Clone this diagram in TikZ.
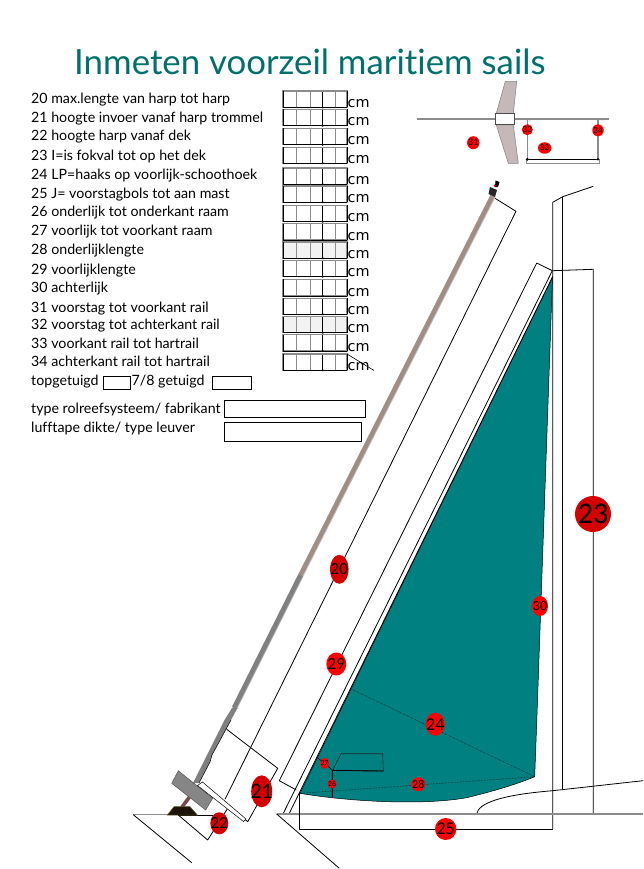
\documentclass[tikz,border=0pt]{standalone}
\usepackage{fontspec}
\setmainfont[Ligatures=NoCommon]{Lato}
\newfontfamily\cmfont{DejaVu Sans}
\newfontfamily\bdfont{Carlito}
\usetikzlibrary{shapes.geometric}
\definecolor{sailteal}{HTML}{008080}
\definecolor{titleteal}{HTML}{00706C}
\definecolor{bad}{HTML}{FF0000}
\definecolor{badd}{HTML}{D40000}
\definecolor{stayb}{HTML}{A08E84}
\definecolor{shroud}{HTML}{C4B8B8}
\tikzset{
 ln/.style={draw=black,line width=.8pt,line join=round},
 gl/.style={draw=gray!90,line width=1.2pt},
 cell/.style={draw=black,line width=.8pt},
 lab/.style={anchor=base west,inner sep=0pt,font=\fontsize{14.2}{15}\selectfont},
 cmt/.style={anchor=base west,inner sep=0pt,font=\cmfont\fontsize{14.4}{15}\selectfont},
}
\newcommand{\rowbox}[3]{%
 \fill[#3] (283,#1) rectangle (347,#2);
 \draw[gl,line width=1pt] (296,#1)--(296,#2) (310,#1)--(310,#2) (335,#1)--(335,#2);
 \draw[cell] (322.7,#1)--(322.7,#2);
 \draw[gl] (283,#1) rectangle (347,#2);
 \draw[black,line width=.8pt] (283,#2)--(347,#2) (283,#1)--(283,#2) (347,#1)--(347,#2);
 \fill (322.7,#2) circle (1.1);
}
\newcommand{\bd}[7]{\node[ellipse,fill=#6,inner sep=0pt,outer sep=0pt,minimum width=#3,minimum height=#4] (b#7) at (#1,#2) {};
 \node[inner sep=0pt,font=\bdfont\fontsize{#5}{#5}\selectfont] at (b#7) {#7};}
\begin{document}
\begin{tikzpicture}[x=1pt,y=-1pt]
\useasboundingbox (0,0) rectangle (643,869);
\node[anchor=base west,inner sep=0pt,text=titleteal,font=\fontsize{34.8}{36}\selectfont] (title) at (74,74.3) {Inmeten voorzeil maritiem sails};
% list
\foreach \y/\t in {103.3/{20 max.lengte van harp tot harp},122.3/{21 hoogte invoer vanaf harp trommel},141/{22 hoogte harp vanaf dek},160.3/{23 I=is fokval tot op het dek},179.3/{24 LP=haaks op voorlijk-schoothoek},198.3/{25 J= voorstagbols tot aan mast},216.7/{26 onderlijk tot onderkant raam},235.7/{27 voorlijk tot voorkant raam},254/{28 onderlijklengte},274/{29 voorlijklengte},292.7/{30 achterlijk},312/{31 voorstag tot voorkant rail},329.3/{32 voorstag tot achterkant rail},348.3/{33 voorkant rail tot hartrail},366/{34 achterkant rail tot hartrail},385/{topgetuigd},413.3/{type rolreefsysteem/ fabrikant},432.7/{lufftape dikte/ type leuver}}
 \node[lab] at (31,\y) {\t};
\node[lab] (g78) at (131.5,385) {7/8 getuigd};
% boxes
\foreach \a/\b/\c in {91/107.5/white,109.3/125.7/white,128.3/144.7/white,147.3/163.3/white,168/184.3/white,186/202.3/white,205.3/221.7/white,223.7/240/white,242/258.3/gray!10,260.3/276.7/white,279.3/296/white,298.3/314.3/white,316.7/332.7/gray!10,334.7/351/white,354/370.3/white}{
 \rowbox{\a}{\b}{\c}
 \node[cmt] at (347.5,\b) {cm};
}
\draw[ln,line width=.6pt] (347,354)--(374,370.5);
\draw[cell] (103.3,376.3) rectangle (130.7,389);
\draw[cell] (212.7,376.7) rectangle (251.7,389);
\draw[cell] (224,400.7) rectangle (365.3,417.3);
\draw[cell] (224.7,422.7) rectangle (361,441.3);
% top detail
\draw[gl] (416.7,119)--(495,119) (514,119)--(609.3,119);
\filldraw[fill=shroud,draw=gray,line width=.5pt] (505.3,81.3)--(516.7,81.3)--(513.3,113.3)--(496.3,113.3)--cycle;
\filldraw[fill=shroud,draw=gray,line width=.5pt] (496.3,125)--(513.3,125)--(518.3,163.3)--(508.3,163.3)--cycle;
\draw[draw=black!70,fill=white,line width=.8pt] (495,113.3) rectangle (514,124.3);
\draw[gl] (527.3,119)--(527.3,159.3) (598,119)--(598,159.3);
\draw[gl,line width=1pt] (526,159.3) rectangle (599.3,164);
\draw[black,line width=.7pt] (526,159.3)--(599.3,159.3);
\fill (527.3,159.3) circle (1.6) (598,159.3) circle (1.4);
\bd{473.3}{142.7}{12.5}{13}{10}{bad}{31}
\bd{527.3}{129.7}{11}{11}{9}{bad}{33}
\bd{598}{130.3}{11.5}{12}{9}{bad}{34}
\bd{544.7}{148}{13.5}{11.5}{9}{bad}{32}
% mast
\draw[ln] (552.7,829)--(552.7,202.3)--(562.7,196.7)--(593.3,186.3);
\draw[ln] (562.7,196.7)--(562.7,789.3);
\draw[ln] (552.7,270.7)--(593.3,269.3)--(593.3,814);
% cabin
\draw[ln] (476.7,814) .. controls (478.3,803.3) and (500,795) .. (552.7,790.7) -- (643,780.7);
% sail
\filldraw[fill=sailteal,draw=black,line width=.5pt] (552.5,277) -- (300,793.3) .. controls (345,801) and (420,806) .. (466.7,797.7) .. controls (490,792) and (515,785) .. (534.7,776.7) -- (536.7,723) -- cycle;
\draw[ln] (536.7,263)--(279.3,780.7)--(296.3,790);
\draw[ln] (536.7,263)--(552.3,270.7)--(283.3,813.3);
\draw[ln] (552.5,277)--(289.3,813.3);
\draw[black,line width=.5pt,densely dotted] (300,793.3)--(534.7,776.7);
\draw[black,line width=.5pt,densely dotted] (351.7,689.3)--(534.7,776.7);
\draw[gray!30!black,line width=.6pt] (332.7,770)--(341,753.7)--(382.7,753.7)--(383.3,771)--cycle;
\draw[black,line width=.9pt] (332.3,770)--(332.3,797.3) (332.7,770.5)--(383.3,771);
\draw[black,line width=.5pt] (318,758)--(332.3,770);
% deck
\draw[gl] (276.7,814)--(643,814);
\draw[ln] (276.7,814)--(339.3,868.3);
\draw[black,line width=1pt] (299.3,793.3)--(299.3,829)--(552.7,829);
\draw[gl] (133.3,814.7)--(178,814.7);
\draw[black,line width=.8pt] (178,815)--(213.3,815);
\draw[ln] (133.3,814.7)--(191.7,862.7);
% harp
\draw[ln] (495,198.3)--(516,211.3)--(225,799.3);
\draw[ln] (226.7,729.3)--(277.7,768.3)--(247.7,821.7)--(201.7,783.3);
\draw[ln] (178.3,815)--(207.7,840)--(228.3,807.3);
\draw[line width=5.4pt,draw=gray!70] (301,575)--(234.5,708);
\draw[line width=4.4pt,draw=gray] (300.5,575)--(234,708);
\fill[gray] (232,708)--(237.5,708)--(231,720)--(212,755)--(210,762)--(199,783)--(193,783)--(224.5,720)--cycle;
\draw[black,line width=.5pt] (231,720)--(212,755)--(210,762)--(199,783);
\draw[line width=5.4pt,draw=gray!50] (493,196)--(301,575);
\draw[line width=4.4pt,draw=stayb] (492.5,196)--(300.5,575);
\filldraw[fill=gray!95,draw=gray!60!black,line width=.4pt] (178.3,770.7)--(212.7,798.3)--(205.7,810)--(171.7,783.3)--cycle;
\draw[draw=black,line width=.5pt,fill=white] (197.5,785.5)--(202.5,782)--(246,819)--(243.5,821.5)--cycle;
\draw[line width=3.6pt,draw=black!60!red!40!gray] (189.3,797.3)--(181.7,807.3);
\filldraw[fill=black!85!brown,draw=olive!60!black,line width=.5pt] (167.3,815)--(174,806.7)--(190,806.7)--(197.3,815)--cycle;
\fill[black!85] (490,187)--(497,190)--(495,197)--(488.5,194)--cycle;
\fill[black] (495.5,180.5)--(499.5,182)--(498,187)--(495,187)--cycle;
\fill[red] (494.7,185.7) circle (1.2);
% badges
\bd{339.3}{569.3}{18.5}{29}{17}{badd}{20}
\bd{261.7}{791.3}{21}{32}{22}{badd}{21}
\bd{219.3}{823.3}{18}{22}{17}{badd}{22}
\bd{593}{514}{36}{36}{30}{badd}{23}
\bd{435.3}{724.3}{19}{23}{18}{bad}{24}
\bd{445.7}{829}{21.5}{22}{18}{bad}{25}
\bd{332}{784}{9}{9}{7.5}{bad}{26}
\bd{324.7}{763.3}{9}{11}{7.5}{bad}{27}
\bd{418.3}{784.3}{14}{14}{12}{bad}{28}
\bd{336.3}{664}{20}{23}{17}{bad}{29}
\bd{540}{606}{16}{20}{14}{bad}{30}
\end{tikzpicture}
\end{document}
